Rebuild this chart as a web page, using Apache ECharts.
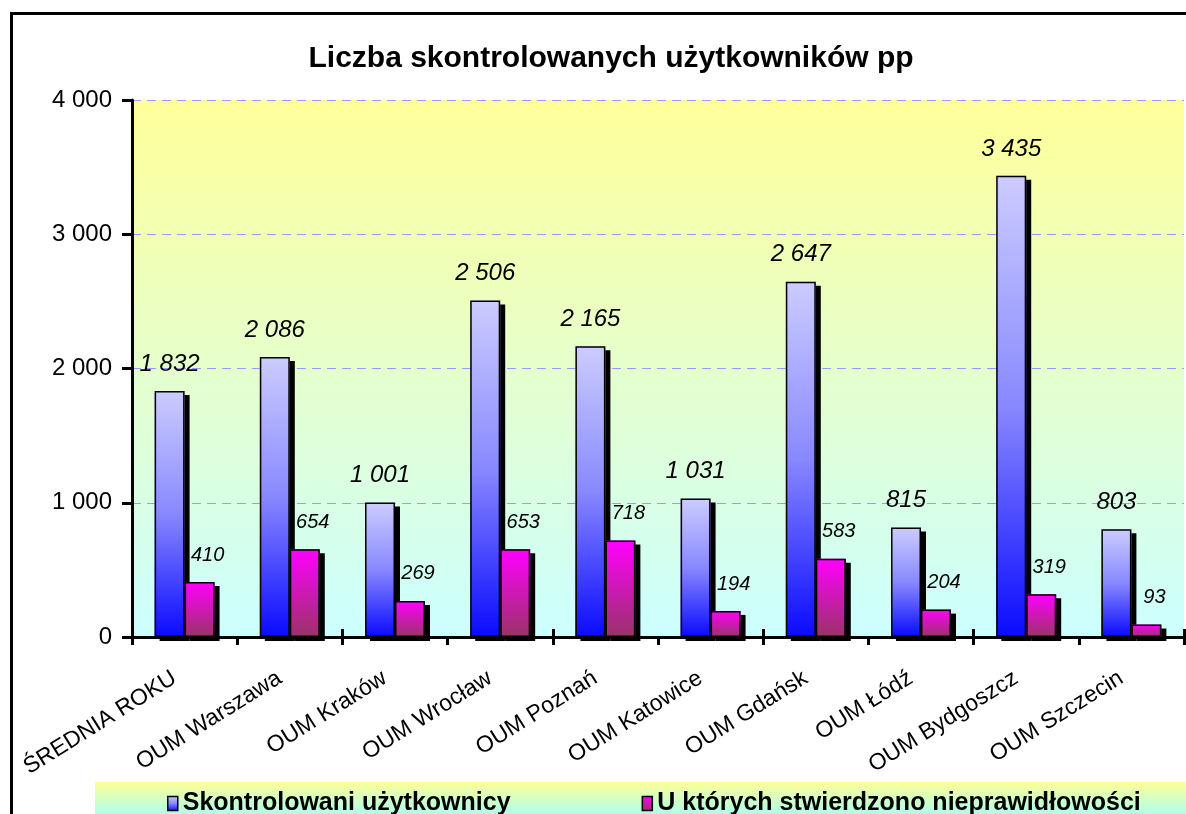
<!DOCTYPE html>
<html>
<head>
<meta charset="utf-8">
<script src="https://cdn.jsdelivr.net/npm/echarts@6/dist/echarts.min.js"></script>
<style>html,body{margin:0;padding:0;background:#fff;}#c{width:1186px;height:814px;}</style>
</head>
<body>
<div id="c"></div>
<script>
var categories = ['ŚREDNIA ROKU','OUM Warszawa','OUM Kraków','OUM Wrocław','OUM Poznań','OUM Katowice','OUM Gdańsk','OUM Łódź','OUM Bydgoszcz','OUM Szczecin'];
var controlled = [1832, 2086, 1001, 2506, 2165, 1031, 2647, 815, 3435, 803];
var irregular = [410, 654, 269, 653, 718, 194, 583, 204, 319, 93];
var yTicks = [0, 1000, 2000, 3000, 4000];
var seriesNames = ['Skontrolowani użytkownicy', 'U których stwierdzono nieprawidłowości'];

function fmt(v){ return String(v).replace(/\B(?=(\d{3})+(?!\d))/g, ' '); }
var FONT = '"Liberation Sans", Arial, sans-serif';

var chart = echarts.init(document.getElementById('c'), null, {renderer:'canvas'});
var grad1 = new echarts.graphic.LinearGradient(0,0,0,1,[{offset:0,color:'#CCCCFF'},{offset:0.5,color:'#8888FF'},{offset:1,color:'#0A0AFF'}]);
var grad2 = new echarts.graphic.LinearGradient(0,0,0,1,[{offset:0,color:'#FF00FF'},{offset:1,color:'#993366'}]);
var option = {
  animation: false,
  backgroundColor: '#ffffff',
  title: {
    text: 'Liczba skontrolowanych użytkowników pp',
    left: 606, top: 39, textAlign: 'center',
    textStyle: {fontFamily: FONT, fontWeight: 'bold', fontSize: 30, color: '#000'}
  },
  graphic: [
    {type:'rect', z: -10, shape:{x:95, y:782, width:1100, height:40},
     style:{fill: new echarts.graphic.LinearGradient(0,0,0,1,[{offset:0,color:'#FFFF99'},{offset:1,color:'#99FFFF'}])}},
    {type:'rect', z: 100, shape:{x:11.5, y:13.5, width:1200, height:900},
     style:{fill:'none', stroke:'#000', lineWidth:3}}
  ],
  legend: {
    left: 162, top: 786, itemGap: 131, itemWidth: 10, itemHeight: 14, icon: 'rect',
    itemStyle: {borderColor: '#000', borderWidth: 1.5, shadowBlur: 0, shadowOffsetX: 0, shadowOffsetY: 0, shadowColor: 'rgba(0,0,0,0)'},
    textStyle: {fontFamily: FONT, fontWeight: 'bold', fontSize: 25, color: '#000'},
    data: seriesNames
  },
  grid: {
    left: 132, top: 100, right: 2, bottom: 177, show: true, borderWidth: 0,
    backgroundColor: new echarts.graphic.LinearGradient(0,0,0,1,[{offset:0,color:'#FFFF99'},{offset:1,color:'#CCFFFF'}])
  },
  xAxis: [{
    type: 'category', data: categories,
    axisLine: {lineStyle: {color:'#000', width: 3}},
    axisTick: {show: true, alignWithLabel: false, length: 8, lineStyle: {color:'#000', width: 3}},
    axisLabel: {rotate: 32, margin: 33, padding: [0, 12, 0, 0], fontFamily: FONT, fontSize: 23, color:'#000', interval: 0}
  },{
    type: 'category', data: categories, position: 'bottom',
    axisLine: {show:false},
    axisTick: {show: true, inside: true, length: 8, lineStyle: {color:'#000', width: 3}},
    axisLabel: {show:false}
  }],
  yAxis: {
    type: 'value', min: 0, max: 4000, interval: 1000,
    axisLine: {show: true, lineStyle: {color:'#000', width: 3}},
    axisTick: {show: true, length: 10, lineStyle: {color:'#000', width: 3}},
    axisLabel: {margin: 20, fontFamily: FONT, fontSize: 24, color:'#000',
      formatter: function(v){ return yTicks.indexOf(v) >= 0 ? fmt(v) : ''; }},
    splitLine: {show: true, lineStyle: {color:'#9999FF', type: [9,6], width: 1}}
  },
  series: [{
    name: seriesNames[0], type: 'bar', data: controlled, barGap: '0%', barCategoryGap: '43%',
    itemStyle: {color: grad1, shadowColor: '#000', shadowBlur: 0, shadowOffsetX: 5, shadowOffsetY: 4},
    label: {show: true, position: 'top', distance: 15, fontFamily: FONT, fontStyle: 'italic', fontSize: 24, color:'#000',
      formatter: function(p){ return fmt(p.value); }}
  },{
    name: seriesNames[1], type: 'bar', data: irregular,
    itemStyle: {color: grad2, shadowColor: '#000', shadowBlur: 0, shadowOffsetX: 5, shadowOffsetY: 4},
    label: {show: true, position: 'top', distance: 17, offset: [8, 0], fontFamily: FONT, fontStyle: 'italic', fontSize: 20, color:'#000',
      formatter: function(p){ return fmt(p.value); }}
  },{
    name: 'border1', type: 'bar', xAxisIndex: 1, data: controlled, barGap: '0%', barCategoryGap: '43%',
    itemStyle: {color: 'rgba(0,0,0,0)', borderColor: '#000', borderWidth: 1.5},
    silent: true
  },{
    name: 'border2', type: 'bar', xAxisIndex: 1, data: irregular,
    itemStyle: {color: 'rgba(0,0,0,0)', borderColor: '#000', borderWidth: 1.5},
    silent: true
  }]
};
chart.setOption(option);
</script>
</body>
</html>
